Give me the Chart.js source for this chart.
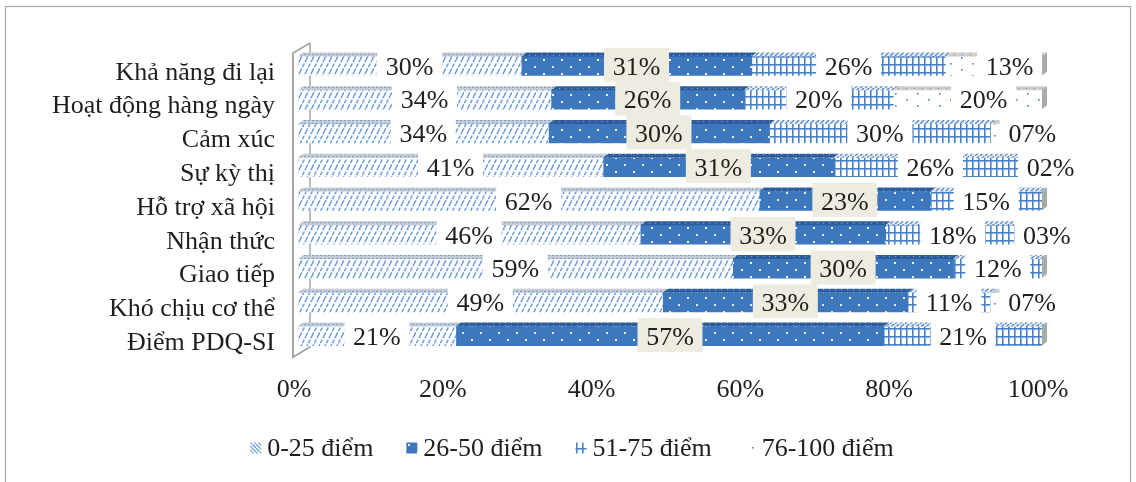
<!DOCTYPE html>
<html>
<head>
<meta charset="utf-8">
<script src="https://cdn.jsdelivr.net/npm/chart.js@4"></script>
<style>
html, body { margin: 0; padding: 0; background: #fff; }
#wrap { width: 1136px; height: 482px; }
</style>
</head>
<body>
<div id="wrap"><canvas id="pdqChart" width="1136" height="482"></canvas></div>
<script>
const categories = ['Khả năng đi lại', 'Hoạt động hàng ngày', 'Cảm xúc', 'Sự kỳ thị', 'Hỗ trợ xã hội', 'Nhận thức', 'Giao tiếp', 'Khó chịu cơ thể', 'Điểm PDQ-SI'];
const seriesNames = ['0-25 điểm', '26-50 điểm', '51-75 điểm', '76-100 điểm'];
const score0to25 = [30, 34, 34, 41, 62, 46, 59, 49, 21];
const score26to50 = [31, 26, 30, 31, 23, 33, 30, 33, 57];
const score51to75 = [26, 20, 30, 26, 15, 18, 12, 11, 21];
const score76to100 = [13, 20, 7, 2, 0, 3, 0, 7, 0];
const xTicks = [0, 20, 40, 60, 80, 100];

const FONT = "'Liberation Serif', 'Times New Roman', serif";
const TEXT = '#1e1e1e';
const canvas = document.getElementById('pdqChart');
const ctx = canvas.getContext('2d');

function makePattern(w, h, draw) {
    const c = document.createElement('canvas');
    c.width = w;
    c.height = h;
    draw(c.getContext('2d'));
    return ctx.createPattern(c, 'repeat');
}

// bar fronts
const hatch = makePattern(6, 12, g => {
    g.fillStyle = '#fff';
    g.fillRect(0, 0, 6, 12);
    g.strokeStyle = '#6b9cdc';
    g.lineWidth = 1.5;
    g.setLineDash([4, 1.5]);
    [-6, 0, 6].forEach(o => {
        g.beginPath();
        g.moveTo(o, 12);
        g.lineTo(o + 6, 0);
        g.stroke();
    });
});
const dots = makePattern(18, 14, g => {
    g.fillStyle = '#3d77be';
    g.fillRect(0, 0, 18, 14);
    g.fillStyle = 'rgba(255,255,255,0.9)';
    g.fillRect(3, 3, 2, 2);
    g.fillRect(12, 10, 2, 2);
});
const grid = makePattern(6, 8, g => {
    g.fillStyle = '#fff';
    g.fillRect(0, 0, 6, 8);
    g.fillStyle = '#4a82c8';
    g.fillRect(0, 0, 1.6, 8);
    g.fillRect(0, 0, 6, 1.6);
});
const sparse = makePattern(22, 12, g => {
    g.fillStyle = '#fff';
    g.fillRect(0, 0, 22, 12);
    g.fillStyle = '#4a82c8';
    g.fillRect(4, 3, 1.6, 1.6);
    g.fillRect(15, 9, 1.6, 1.6);
});
// legend swatch for the first series leans the other way
const hatchIcon = makePattern(4, 4, g => {
    g.fillStyle = '#fff';
    g.fillRect(0, 0, 4, 4);
    g.strokeStyle = '#6e9fdc';
    g.lineWidth = 1.3;
    [-4, 0, 4].forEach(o => {
        g.beginPath();
        g.moveTo(o, 0);
        g.lineTo(o + 4, 4);
        g.stroke();
    });
});

// bar tops (3d)
const topPatterns = [
    makePattern(4, 3, g => { g.fillStyle = '#c4ccd6'; g.fillRect(0, 0, 4, 3); g.fillStyle = '#7f9ec8'; g.fillRect(0, 0, 2, 1); }),
    makePattern(6, 3, g => { g.fillStyle = '#2d5d9b'; g.fillRect(0, 0, 6, 3); g.fillStyle = '#7fa3d0'; g.fillRect(1, 1, 1, 1); }),
    makePattern(5, 4, g => { g.fillStyle = '#e6ebf2'; g.fillRect(0, 0, 5, 4); g.strokeStyle = '#4a82c8'; g.lineWidth = 1.2; g.beginPath(); g.moveTo(0, 4); g.lineTo(4, 0); g.stroke(); }),
    makePattern(8, 3, g => { g.fillStyle = '#cdcdcd'; g.fillRect(0, 0, 8, 3); g.fillStyle = '#6f93c4'; g.fillRect(2, 1, 1, 1); })
];

const rawSeries = [score0to25, score26to50, score51to75, score76to100];
const fills = [hatch, dots, grid, sparse];
const legendFills = [hatchIcon, dots, grid, sparse];
const labelBoxes = ['#ffffff', '#eeece1', '#ffffff', '#ffffff'];
const labelShift = [0, 0, 0, 16];

// 100% stacked: each row scaled to its own total
const rowTotals = categories.map((_, i) => rawSeries.reduce((s, arr) => s + arr[i], 0));

const DX = 5, DY = 4;

const wallPlugin = {
    id: 'wall',
    beforeDatasetsDraw(chart) {
        const a = chart.chartArea;
        const c = chart.ctx;
        c.save();
        c.strokeStyle = '#a6a6a6';
        c.lineWidth = 1.5;
        c.beginPath();
        c.moveTo(a.left + 12, a.top - 6);
        c.lineTo(a.left + 12, a.bottom - 6);
        c.stroke();
        c.restore();
    },
    afterDraw(chart) {
        const a = chart.chartArea;
        const c = chart.ctx;
        c.save();
        c.strokeStyle = '#a6a6a6';
        c.lineWidth = 2;
        c.beginPath();
        c.moveTo(a.left + 12, a.top - 6);
        c.lineTo(a.left - 5, a.top + 4);
        c.lineTo(a.left - 5, a.bottom + 4);
        c.lineTo(a.left + 12, a.bottom - 6);
        c.stroke();
        // outer frame
        c.lineWidth = 1.2;
        c.strokeRect(5.5, 6.5, 1125, 490);
        c.restore();
    }
};

const depthPlugin = {
    id: 'depth',
    afterDatasetsDraw(chart) {
        const c = chart.ctx;
        const xEnd = chart.scales.x.getPixelForValue(100);
        c.save();
        chart.data.datasets.forEach((ds, di) => {
            chart.getDatasetMeta(di).data.forEach(el => {
                const p = el.getProps(['x', 'y', 'base', 'height'], true);
                if (Math.abs(p.x - p.base) < 0.5) return;
                const top = p.y - p.height / 2;
                c.fillStyle = topPatterns[di];
                c.beginPath();
                c.moveTo(p.base, top);
                c.lineTo(p.base + DX, top - DY);
                c.lineTo(p.x + DX, top - DY);
                c.lineTo(p.x, top);
                c.closePath();
                c.fill();
            });
        });
        chart.getDatasetMeta(0).data.forEach(el => {
            const p = el.getProps(['y', 'height'], true);
            const top = p.y - p.height / 2;
            const bottom = p.y + p.height / 2;
            c.fillStyle = '#a9a9a9';
            c.beginPath();
            c.moveTo(xEnd, top);
            c.lineTo(xEnd + DX, top - DY);
            c.lineTo(xEnd + DX, bottom - DY);
            c.lineTo(xEnd, bottom);
            c.closePath();
            c.fill();
        });
        c.restore();
    }
};

const labelPlugin = {
    id: 'segLabels',
    afterDatasetsDraw(chart) {
        const c = chart.ctx;
        c.save();
        c.font = '26px ' + FONT;
        c.textAlign = 'center';
        c.textBaseline = 'middle';
        chart.data.datasets.forEach((ds, di) => {
            chart.getDatasetMeta(di).data.forEach((el, i) => {
                const v = rawSeries[di][i];
                if (!v) return;
                const p = el.getProps(['x', 'y', 'base'], true);
                const cx = (p.x + p.base) / 2 + labelShift[di];
                c.fillStyle = labelBoxes[di];
                c.fillRect(cx - 32.5, p.y - 18, 65, 34);
                c.fillStyle = TEXT;
                c.fillText(String(v).padStart(2, '0') + '%', cx, p.y + 2);
            });
        });
        c.restore();
    }
};

const legendPlugin = {
    id: 'bottomLegend',
    afterDraw(chart) {
        const c = chart.ctx;
        c.save();
        c.font = '26px ' + FONT;
        c.textBaseline = 'middle';
        c.textAlign = 'left';
        const box = 11, gap = 6, itemGap = 33, cy = 448;
        const widths = seriesNames.map(n => box + gap + c.measureText(n).width);
        const total = widths.reduce((s, w) => s + w, 0) + itemGap * (seriesNames.length - 1);
        let x = 572 - total / 2;
        seriesNames.forEach((n, i) => {
            c.fillStyle = legendFills[i];
            c.fillRect(x, cy - box / 2, box, box);
            c.fillStyle = TEXT;
            c.fillText(n, x + box + gap, cy + 1);
            x += widths[i] + itemGap;
        });
        c.restore();
    }
};

new Chart(canvas, {
    type: 'bar',
    data: {
        labels: categories,
        datasets: rawSeries.map((arr, di) => ({
            label: seriesNames[di],
            data: arr.map((v, i) => v / rowTotals[i] * 100),
            backgroundColor: fills[di],
            borderWidth: 0,
            barThickness: 19
        }))
    },
    options: {
        indexAxis: 'y',
        responsive: false,
        animation: false,
        devicePixelRatio: 1,
        layout: { padding: { left: 0, right: 94, top: 49, bottom: 0 } },
        plugins: { legend: { display: false }, tooltip: { enabled: false } },
        scales: {
            x: {
                stacked: true,
                min: 0,
                max: 100,
                grid: { display: false, drawTicks: false },
                border: { display: false },
                afterBuildTicks: s => { s.ticks = xTicks.map(v => ({ value: v })); },
                afterFit: s => { s.height = 129; },
                ticks: {
                    callback: v => v + '%',
                    font: { family: FONT, size: 26 },
                    color: TEXT,
                    padding: 22,
                    labelOffset: -4,
                    maxRotation: 0
                }
            },
            y: {
                stacked: true,
                grid: { display: false, drawTicks: false },
                border: { display: false },
                afterFit: s => { s.width = 298; },
                ticks: {
                    autoSkip: false,
                    font: { family: FONT, size: 26 },
                    color: TEXT,
                    padding: 23,
                    labelOffset: 7
                }
            }
        }
    },
    plugins: [wallPlugin, depthPlugin, labelPlugin, legendPlugin]
});
</script>
</body>
</html>
